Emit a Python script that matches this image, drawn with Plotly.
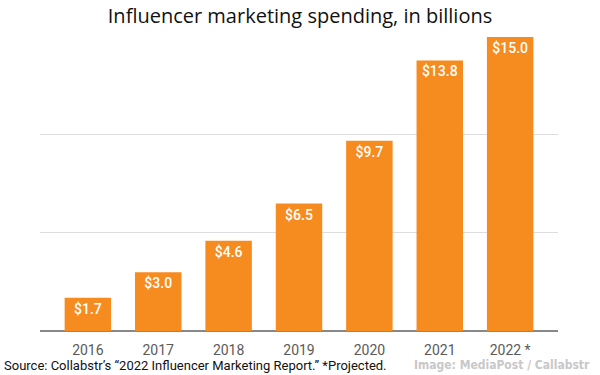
import plotly.graph_objects as go

years = ["2016", "2017", "2018", "2019", "2020", "2021", "2022 *"]
spending = [1.7, 3.0, 4.6, 6.5, 9.7, 13.8, 15.0]
labels = ["$1.7", "$3.0", "$4.6", "$6.5", "$9.7", "$13.8", "$15.0"]
title = "Influencer marketing spending, in billions"
source = "Source: Collabstr\u2019s \u201c2022 Influencer Marketing Report.\u201d *Projected."
credit = "Image: MediaPost / Callabstr"

fig = go.Figure(go.Bar(
    x=list(range(len(years))), y=spending, text=labels,
    textposition="inside", insidetextanchor="end",
    textfont=dict(family="Roboto", size=14, color="white", weight=500),
    marker=dict(color="#F68B1F", line=dict(width=0)),
    width=0.66, cliponaxis=False,
))

fig.update_layout(
    width=600, height=375,
    margin=dict(l=40, r=42, t=31, b=44),
    plot_bgcolor="white", paper_bgcolor="white",
    showlegend=False,
    title=dict(text=title, x=0.5, xanchor="center", y=1 - 9 / 375, yanchor="top",
               font=dict(family="Open Sans", size=20, color="#111")),
    xaxis=dict(range=[-0.68, 6.68], tickmode="array",
               tickvals=list(range(len(years))), ticktext=years,
               showgrid=False, zeroline=False, showline=False,
               ticks="outside", ticklen=6, tickcolor="rgba(0,0,0,0)",
               tickfont=dict(family="Roboto", size=14, color="#5a5a5a")),
    yaxis=dict(range=[0, 15.3], tickvals=[5, 10], showticklabels=False,
               showgrid=True, gridcolor="#DDDDDD", gridwidth=1,
               zeroline=True, zerolinecolor="#888", zerolinewidth=2,
               showline=False),
    annotations=[
        dict(text=source, x=0.0, y=0, xref="paper", yref="paper",
             xanchor="left", yanchor="middle", yshift=-34, xshift=-38,
             showarrow=False,
             font=dict(family="Roboto", size=13, color="#111")),
        dict(text=credit, x=1.0, y=0, xref="paper", yref="paper",
             xanchor="right", yanchor="middle", yshift=-34, xshift=34,
             showarrow=False,
             font=dict(family="DejaVu Sans Condensed, Roboto, sans-serif", size=12,
                       color="#C8C8C8", weight="bold")),
    ],
)

fig.write_html("out.html", config={"displayModeBar": False},
               post_script="document.body.style.margin='0';")
